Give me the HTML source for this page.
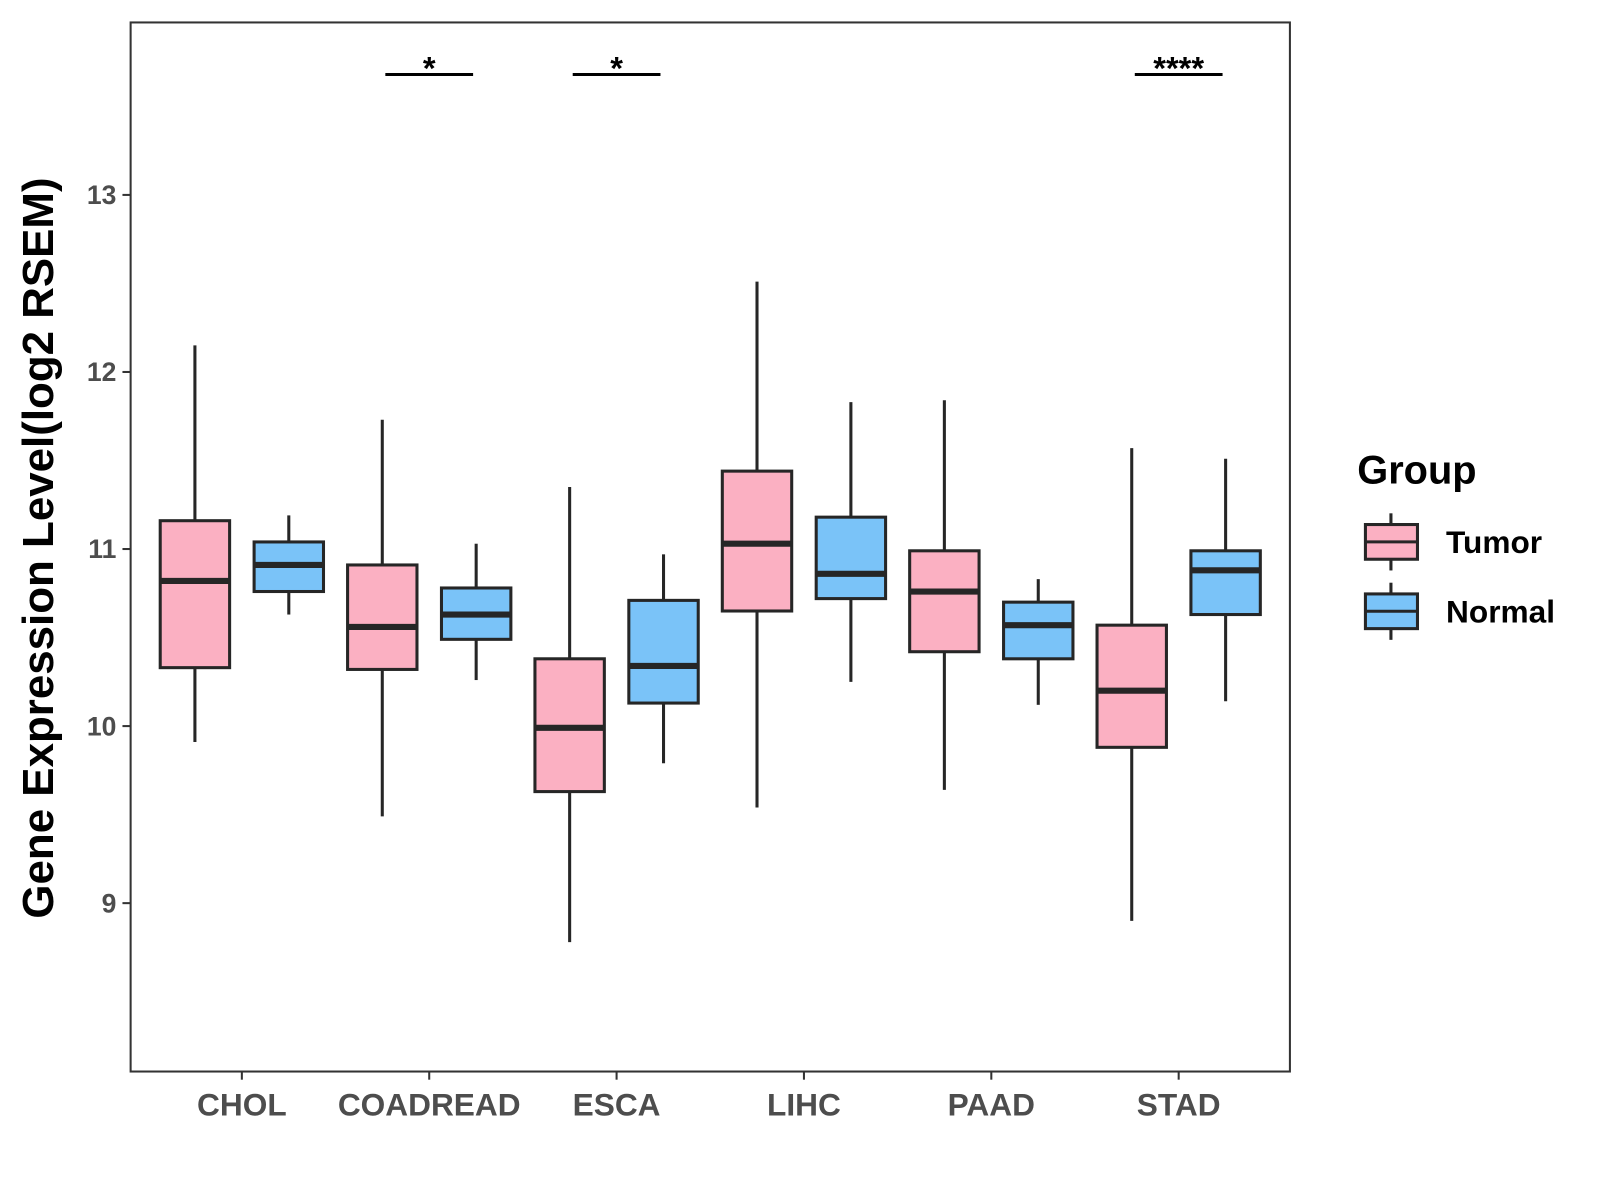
<!DOCTYPE html>
<html><head><meta charset="utf-8"><style>
html,body{margin:0;padding:0;background:#fff;width:1600px;height:1200px;overflow:hidden}
svg{font-family:"Liberation Sans",Arial,sans-serif;font-weight:bold}
</style></head><body>
<svg id="chart" width="1600" height="1200"><g id="root" transform="scale(1.0205)"></g></svg>
<script>
const categories=["CHOL","COADREAD","ESCA","LIHC","PAAD","STAD"];
const tumorStats=[[9.91,10.33,10.82,11.16,12.15],[9.49,10.32,10.56,10.91,11.73],[8.78,9.63,9.99,10.38,11.35],[9.54,10.65,11.03,11.44,12.51],[9.64,10.42,10.76,10.99,11.84],[8.90,9.88,10.20,10.57,11.57]];
const normalStats=[[10.63,10.76,10.91,11.04,11.19],[10.26,10.49,10.63,10.78,11.03],[9.79,10.13,10.34,10.71,10.97],[10.25,10.72,10.86,11.18,11.83],[10.12,10.38,10.57,10.70,10.83],[10.14,10.63,10.88,10.99,11.51]];
const sigLabels=["","*","*","","","****"];
const yTicks=[9,10,11,12,13];
const NS="http://www.w3.org/2000/svg";
const svg=document.getElementById("root");
const L=128,R=1264,T=22,B=1050;
function y(v){return 191+(13-v)*173.5;}
function x(i){return 237+i*183.6;}
function el(t,a,p){const e=document.createElementNS(NS,t);for(const k in a)e.setAttribute(k,a[k]);(p||svg).appendChild(e);return e;}
const panel=el("rect",{x:L,y:T,width:R-L,height:B-T,fill:"#fff",stroke:"#333","stroke-width":2});


yTicks.forEach(t=>{
 const g=el("g",{});
 
 
 el("line",{x1:L-8,x2:L,y1:y(t),y2:y(t),stroke:"#333","stroke-width":2},g);
 const tx=el("text",{x:L-14,y:y(t)+9,"text-anchor":"end","font-size":26,fill:"#4d4d4d"},g);tx.textContent=t;
});
function box(cx,s,fill,name){
 const g=el("g",{});
 
 
 const w=68;
 el("line",{x1:cx,x2:cx,y1:y(s[4]),y2:y(s[3]),stroke:"#262626","stroke-width":3},g);
 el("line",{x1:cx,x2:cx,y1:y(s[1]),y2:y(s[0]),stroke:"#262626","stroke-width":3},g);
 el("rect",{x:cx-w/2,y:y(s[3]),width:w,height:y(s[1])-y(s[3]),fill:fill,stroke:"#262626","stroke-width":3},g);
 el("line",{x1:cx-w/2,x2:cx+w/2,y1:y(s[2]),y2:y(s[2]),stroke:"#262626","stroke-width":6},g);
}
categories.forEach((c,i)=>{
 box(x(i)-46,tumorStats[i],"#FBB0C2","box-tumor-"+c.toLowerCase());
 box(x(i)+46,normalStats[i],"#7AC3F8","box-normal-"+c.toLowerCase());
 const g=el("g",{});
 
 
 el("line",{x1:x(i),x2:x(i),y1:B,y2:B+8,stroke:"#333","stroke-width":2},g);
 const tx=el("text",{x:x(i),y:1093,"text-anchor":"middle","font-size":31,fill:"#4d4d4d"},g);tx.textContent=c;
 if(sigLabels[i]){
  const s=el("g",{});
  
  
  el("line",{x1:x(i)-43,x2:x(i)+43,y1:73,y2:73,stroke:"#000","stroke-width":3},s);
  const st=el("text",{x:x(i),y:78,"text-anchor":"middle","font-size":32,fill:"#000"},s);st.textContent=sigLabels[i];
 }
});
const yt=el("text",{x:0,y:0,transform:"translate(52,537) rotate(-90)","text-anchor":"middle","font-size":43,fill:"#000"});
yt.textContent="Gene Expression Level(log2 RSEM)";


const lg=el("g",{});


const lt=el("text",{x:1330,y:474,"font-size":39,fill:"#000"},lg);lt.textContent="Group";
[["Tumor","#FBB0C2",531],["Normal","#7AC3F8",599]].forEach(([n,f,cy])=>{
 const g=el("g",{},lg);
 
 
 el("line",{x1:1363,x2:1363,y1:cy-28,y2:cy+28,stroke:"#262626","stroke-width":3},g);
 el("rect",{x:1338,y:cy-17,width:51,height:34,fill:f,stroke:"#262626","stroke-width":3},g);
 el("line",{x1:1338,x2:1389,y1:cy,y2:cy,stroke:"#262626","stroke-width":3},g);
 const t=el("text",{x:1417,y:cy+11,"font-size":31,fill:"#000"},g);t.textContent=n;
});
</script>
</body></html>
